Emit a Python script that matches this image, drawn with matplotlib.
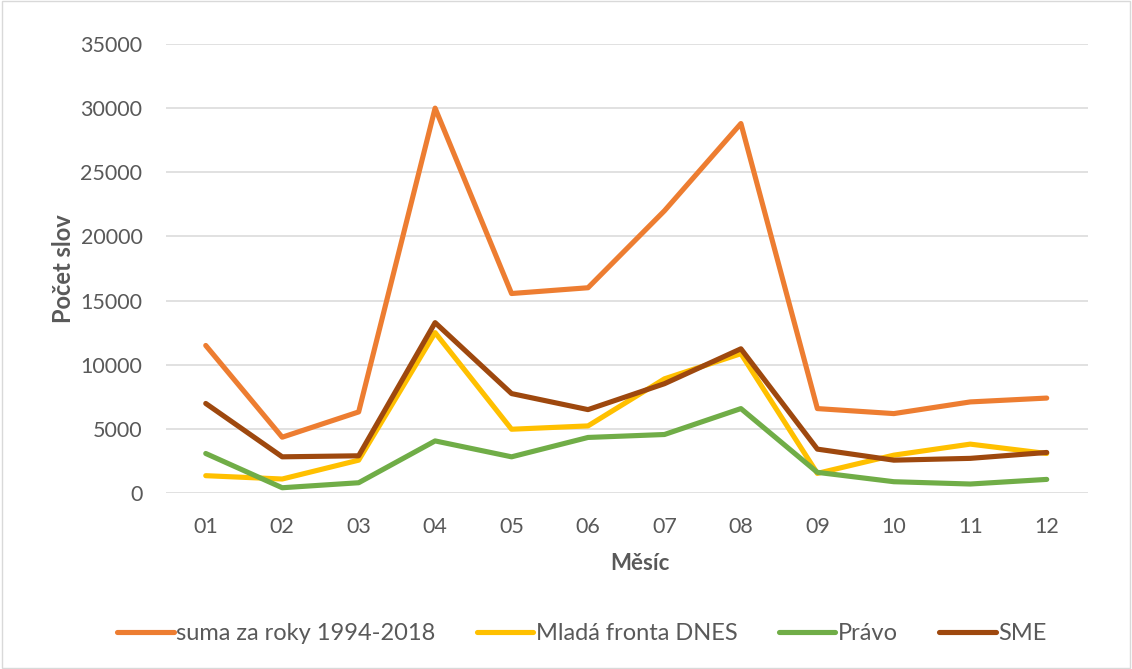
import matplotlib.pyplot as plt
from matplotlib.patches import Rectangle

plt.rcParams['font.family'] = ['Lato', 'DejaVu Sans']

months = ['01', '02', '03', '04', '05', '06', '07', '08', '09', '10', '11', '12']

suma = [11500, 4350, 6320, 30000, 15550, 16000, 22000, 28800, 6580, 6190, 7100, 7400]
mlada_fronta = [1350, 1090, 2560, 12500, 4970, 5230, 8900, 10860, 1530, 2950, 3810, 3080]
pravo = [3080, 410, 800, 4060, 2820, 4330, 4560, 6580, 1610, 880, 700, 1060]
sme = [6980, 2820, 2900, 13280, 7750, 6500, 8520, 11240, 3420, 2560, 2700, 3160]

series = [
    ('suma za roky 1994-2018', suma, '#ED7D31'),
    ('Mladá fronta DNES', mlada_fronta, '#FFC000'),
    ('Právo', pravo, '#70AD47'),
    ('SME', sme, '#9E480E'),
]

fig = plt.figure(figsize=(11.32, 6.69), dpi=100)
ax = fig.add_axes([166 / 1132, 1 - 493 / 669, (1088 - 166) / 1132, (493 - 44) / 669])

x = range(len(months))
for label, values, color in series:
    ax.plot(x, values, color=color, linewidth=3.7, label=label,
            solid_capstyle='round', solid_joinstyle='round')

ax.set_xlim(-0.52, len(months) - 0.46)
ax.set_ylim(0, 35000)
ax.set_yticks(range(0, 35001, 5000))
ax.set_xticks(list(x))
ax.set_xticklabels(months)
ax.grid(axis='y', color='#D9D9D9', linewidth=1.1)
ax.set_axisbelow(True)
for s in ax.spines.values():
    s.set_visible(False)
ax.tick_params(length=0, labelsize=15.5, labelcolor='#595959')
ax.tick_params(axis='x', pad=17)
ax.tick_params(axis='y', pad=17)

ax.set_xlabel('Měsíc', fontsize=16, fontweight='bold', color='#595959', labelpad=12,
              x=(640 - 166) / 922)
ax.set_ylabel('Počet slov', fontsize=17, fontweight='bold', color='#595959', labelpad=4)

fig.legend(loc='center', bbox_to_anchor=(0.514, 1 - 634 / 669), ncol=4, frameon=False,
           fontsize=17, labelcolor='#595959', handlelength=2.4, handletextpad=0.1,
           columnspacing=1.75)

fig.patches.append(Rectangle((0.002, 0.002), 0.996, 0.996, transform=fig.transFigure,
                             fill=False, edgecolor='#D9D9D9', linewidth=1))

fig.savefig('out.png', dpi=100)
